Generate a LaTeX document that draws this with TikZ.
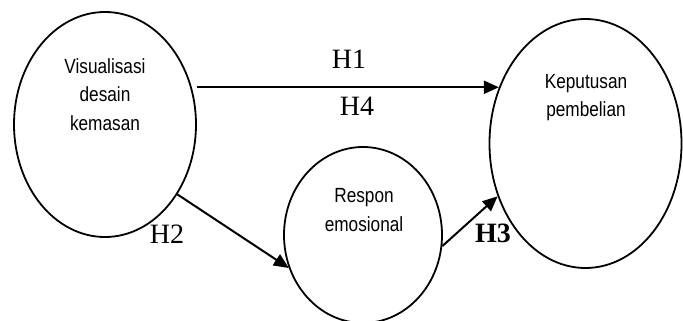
\documentclass[tikz,border=0pt]{standalone}
\usepackage{fontspec}
\setmainfont{Liberation Serif}
\newfontfamily\labelsans{Liberation Sans}
\usetikzlibrary{arrows.meta,shapes.geometric}
\tikzset{
  circ/.style={draw, ellipse, line width=1.8pt, inner sep=0pt},
  lbl/.style={font=\labelsans\fontsize{20.5}{28.5}\selectfont, align=center, anchor=base, xscale=0.84, transform shape},
  hyp/.style={font=\fontsize{28}{30}\selectfont, anchor=base},
  arr/.style={line width=2pt, -{Triangle[length=15pt,width=13pt]}}
}
\begin{document}
\begin{tikzpicture}[x=1pt,y=-1pt]
\useasboundingbox (0,0) rectangle (683,321);
\node[circ, minimum width=182pt, minimum height=225pt] (L) at (105,124.5) {};
\node[circ, minimum width=192pt, minimum height=249pt] (R) at (585.5,143.5) {};
\node[circ, minimum width=158pt, minimum height=176pt] (M) at (363,235) {};
\node[lbl] (tL) at (105,130) {Visualisasi\\desain\\kemasan};
\node[lbl] (tR) at (586,117) {Keputusan\\pembelian};
\node[lbl] (tM) at (364,231) {Respon\\emosional};
\path (R.147) coordinate (t1);
\draw[arr] (L.east |- t1) -- (t1);
\draw[arr] (L.-44) -- (M.204);
\draw[arr] (M.-8) -- (R.211);
\node[hyp] (h1) at (349,69) {H1};
\node[hyp] (h4) at (357,115) {H4};
\node[hyp] (h2) at (167,243) {H2};
\node[hyp] (h3) at (493,242) {\bfseries H3};
\end{tikzpicture}
\end{document}
